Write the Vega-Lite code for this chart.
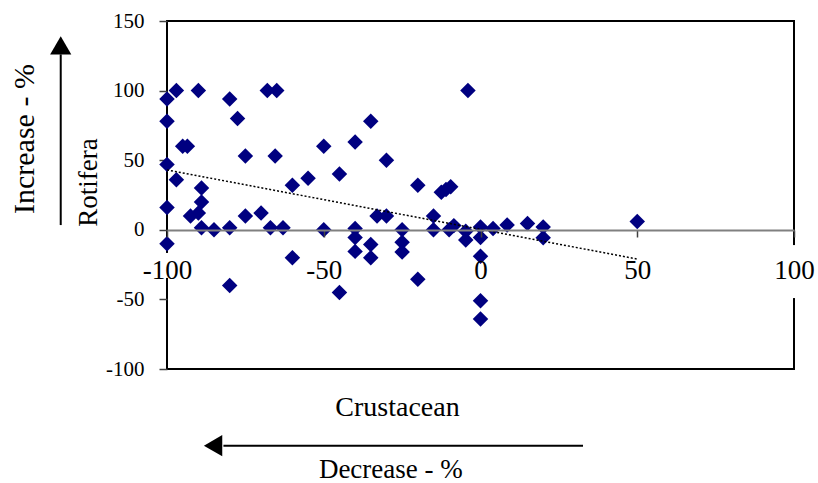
{
  "$schema": "https://vega.github.io/schema/vega-lite/v6.json",
  "width": 627,
  "height": 348,
  "autosize": "none",
  "padding": {"left": 167, "top": 21, "right": 24, "bottom": 114},
  "background": "white",
  "config": {
    "view": {"stroke": "black", "strokeWidth": 2},
    "font": "Liberation Serif",
    "axis": {"grid": false}
  },
  "datasets": {
    "points": [
      {"crustacean": -100, "rotifera": 94}, {"crustacean": -97, "rotifera": 100}, {"crustacean": -90, "rotifera": 100},
      {"crustacean": -80, "rotifera": 94}, {"crustacean": -68, "rotifera": 100}, {"crustacean": -65, "rotifera": 100},
      {"crustacean": -4, "rotifera": 100}, {"crustacean": -100, "rotifera": 78}, {"crustacean": -77.5, "rotifera": 80},
      {"crustacean": -35, "rotifera": 78}, {"crustacean": -95, "rotifera": 60}, {"crustacean": -93.5, "rotifera": 60},
      {"crustacean": -50, "rotifera": 60}, {"crustacean": -40, "rotifera": 63}, {"crustacean": -75, "rotifera": 53},
      {"crustacean": -65.5, "rotifera": 53}, {"crustacean": -30, "rotifera": 50}, {"crustacean": -100, "rotifera": 47},
      {"crustacean": -97, "rotifera": 36}, {"crustacean": -89, "rotifera": 30}, {"crustacean": -60, "rotifera": 32},
      {"crustacean": -55, "rotifera": 37}, {"crustacean": -45, "rotifera": 40}, {"crustacean": -20, "rotifera": 32},
      {"crustacean": -12.5, "rotifera": 27}, {"crustacean": -11, "rotifera": 29}, {"crustacean": -9.5, "rotifera": 31},
      {"crustacean": -89, "rotifera": 20}, {"crustacean": -100, "rotifera": 16}, {"crustacean": -92.5, "rotifera": 10},
      {"crustacean": -90, "rotifera": 12}, {"crustacean": -75, "rotifera": 10}, {"crustacean": -70, "rotifera": 12},
      {"crustacean": -33, "rotifera": 10}, {"crustacean": -30, "rotifera": 10}, {"crustacean": -15, "rotifera": 10},
      {"crustacean": -89, "rotifera": 1.5}, {"crustacean": -85, "rotifera": 0}, {"crustacean": -80, "rotifera": 1.5},
      {"crustacean": -67, "rotifera": 1.5}, {"crustacean": -63, "rotifera": 1.5}, {"crustacean": -50, "rotifera": 0},
      {"crustacean": -40, "rotifera": 1}, {"crustacean": -25, "rotifera": 0}, {"crustacean": -15, "rotifera": 0},
      {"crustacean": -10, "rotifera": 0}, {"crustacean": -8.5, "rotifera": 3}, {"crustacean": -4.7, "rotifera": -1},
      {"crustacean": 0, "rotifera": 2}, {"crustacean": 4, "rotifera": 1}, {"crustacean": 8.5, "rotifera": 3.5},
      {"crustacean": 15, "rotifera": 4.5}, {"crustacean": 20, "rotifera": 2}, {"crustacean": 50, "rotifera": 6},
      {"crustacean": -100, "rotifera": -10}, {"crustacean": -60, "rotifera": -20}, {"crustacean": -80, "rotifera": -40},
      {"crustacean": -45, "rotifera": -45}, {"crustacean": -40, "rotifera": -5.5}, {"crustacean": -40, "rotifera": -15.5},
      {"crustacean": -35, "rotifera": -10.5}, {"crustacean": -35, "rotifera": -20}, {"crustacean": -25, "rotifera": -9},
      {"crustacean": -25, "rotifera": -16}, {"crustacean": -20, "rotifera": -35.5}, {"crustacean": -4.7, "rotifera": -7.3},
      {"crustacean": 0, "rotifera": -5.5}, {"crustacean": 0, "rotifera": -19}, {"crustacean": 0, "rotifera": -51},
      {"crustacean": 0, "rotifera": -64}, {"crustacean": 20, "rotifera": -5.7}
    ],
    "trend": [
      {"crustacean": -100, "rotifera": 43},
      {"crustacean": 50, "rotifera": -21}
    ]
  },
  "layer": [
    {
      "data": {"name": "points"},
      "mark": {"type": "point", "shape": "diamond", "filled": true, "color": "#000080", "size": 240, "opacity": 1},
      "encoding": {
        "x": {
          "field": "crustacean", "type": "quantitative",
          "scale": {"domain": [-100, 100], "nice": false, "zero": false},
          "axis": {
            "orient": "bottom", "offset": -139, "values": [-100, -50, 0, 50, 100],
            "labelExpr": "'' + datum.value",
            "domainColor": "#808080", "domainWidth": 2,
            "tickColor": "#404040", "tickSize": 7, "tickWidth": 1.5,
            "labelFontSize": 27, "labelPadding": 20, "labelFlush": false, "labelOverlap": false, "labelBound": false,
            "labelColor": "black", "labelFont": "Liberation Serif",
            "title": "Crustacean", "titleFontSize": 28, "titleFontWeight": "normal", "titleFont": "Liberation Serif",
            "titlePadding": 110, "titleX": 230, "titleColor": "black", "zindex": 1, "grid": false
          }
        },
        "y": {
          "field": "rotifera", "type": "quantitative",
          "scale": {"domain": [-100, 150], "nice": false, "zero": false},
          "axis": {
            "values": [-100, -50, 0, 50, 100, 150], "domain": false,
            "labelExpr": "'' + datum.value",
            "tickColor": "#404040", "tickSize": 8, "tickWidth": 1.5,
            "labelFontSize": 21, "labelPadding": 15, "labelColor": "black", "labelFont": "Liberation Serif",
            "title": "Rotifera", "titleFontSize": 27, "titleFontWeight": "normal", "titleFont": "Liberation Serif",
            "titlePadding": 3, "titleY": 161, "titleColor": "black", "grid": false
          }
        }
      }
    },
    {
      "data": {"name": "trend"},
      "mark": {"type": "line", "color": "black", "strokeWidth": 1.5, "strokeDash": [2, 2]},
      "encoding": {
        "x": {"field": "crustacean", "type": "quantitative"},
        "y": {"field": "rotifera", "type": "quantitative"}
      }
    },
    {
      "data": {"values": [{}]},
      "mark": {"type": "point", "shape": "M-0.4,-1L0.4,-1L0.4,1L-0.4,1Z", "filled": true, "color": "white", "opacity": 1, "size": 625},
      "encoding": {"x": {"datum": -100}, "y": {"datum": -25.6}}
    },
    {
      "data": {"values": [{}]},
      "mark": {"type": "point", "shape": "M-0.2,-1L0.2,-1L0.2,1L-0.2,1Z", "filled": true, "color": "white", "opacity": 1, "size": 2809},
      "encoding": {"x": {"datum": 100}, "y": {"datum": -30}}
    },
    {
      "data": {"values": [{}]},
      "mark": {"type": "text", "text": "Increase - %", "angle": 270, "fontSize": 30, "font": "Liberation Serif", "align": "center", "baseline": "middle", "color": "black"},
      "encoding": {"x": {"datum": -145.3}, "y": {"datum": 65.2}}
    },
    {
      "data": {"values": [{}]},
      "mark": {"type": "text", "text": "Decrease - %", "fontSize": 27, "font": "Liberation Serif", "align": "center", "baseline": "middle", "color": "black"},
      "encoding": {"x": {"datum": -28.6}, "y": {"datum": -172.6}}
    },
    {
      "data": {"values": [{}]},
      "mark": {"type": "rule", "color": "black", "strokeWidth": 2},
      "encoding": {"x": {"datum": -133.9}, "y": {"datum": 3.4}, "y2": {"datum": 126}}
    },
    {
      "data": {"values": [{}]},
      "mark": {"type": "point", "shape": "triangle-up", "filled": true, "color": "black", "opacity": 1, "size": 450},
      "encoding": {"x": {"datum": -133.9}, "y": {"datum": 132.5}}
    },
    {
      "data": {"values": [{}]},
      "mark": {"type": "rule", "color": "black", "strokeWidth": 2},
      "encoding": {"x": {"datum": -82}, "x2": {"datum": 32.7}, "y": {"datum": -155.1}}
    },
    {
      "data": {"values": [{}]},
      "mark": {"type": "point", "shape": "triangle-left", "filled": true, "color": "black", "opacity": 1, "size": 450},
      "encoding": {"x": {"datum": -85.3}, "y": {"datum": -155.1}}
    }
  ]
}
